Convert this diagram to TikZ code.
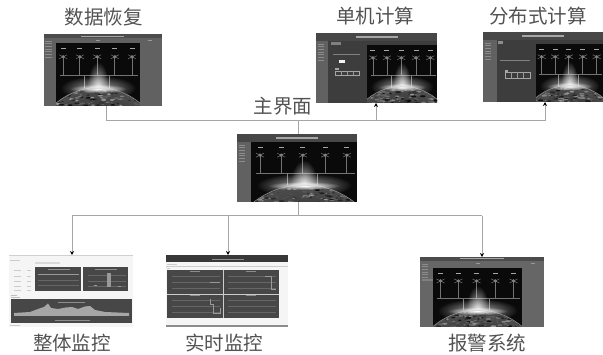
\documentclass[tikz,border=0pt]{standalone}
\usepackage{fontspec}
\newfontfamily\cjk{Noto Sans CJK SC}
\usetikzlibrary{arrows.meta}
\tikzset{
  shot/.style={inner sep=0pt,outer sep=0pt,draw=none},
  conn/.style={draw=black!35,line width=1pt},
  arrowconn/.style={conn,-{Stealth[length=4pt,width=4pt,color=black]}},
  caption/.style={inner sep=0pt,text=black!68,font=\cjk\fontsize{19.5}{22}\selectfont},
  panel/.style={fill=black!72},
  grid/.style={draw=black!60,line width=0.25pt},
  trace/.style={draw=black!40,line width=0.5pt}
}
% base of a dark screenshot: x0 y0 x1 y1 sidebar-right title-bottom body-gray content-gray
\newcommand{\screenbase}[8]{%
  \fill[black!#7] (#1,#2) rectangle (#3,#4);
  \fill[black!#8] (#5,#6) rectangle (#3,#4);
  \fill[black!72] (#1,#2) rectangle (#3,#6);
  \pgfmathsetmacro{\tcx}{(#1+#3)/2}
  \pgfmathsetmacro{\tcy}{(#2+#6)/2}
  \fill[black!35] (\tcx-21,\tcy-0.7) rectangle (\tcx+21,\tcy+0.7);
  \foreach \k in {0,...,6}{
    \pgfmathsetmacro{\my}{#6+3+\k*2.7}
    \fill[black!45] (#1+1.5,\my-0.35) rectangle (#1+8,\my+0.35);
  }
}
% starry scene with satellites and planet: x0 y0 x1 y1
\newcommand{\earthscene}[4]{%
  \begin{scope}
    \clip (#1,#2) rectangle (#3,#4);
    \fill[black!96] (#1,#2) rectangle (#3,#4);
    \pgfmathsetmacro{\w}{#3-#1}
    \pgfmathsetmacro{\h}{#4-#2}
    \pgfmathsetmacro{\R}{0.77*\w}
    \pgfmathsetmacro{\etop}{#2+0.72*\h}
    \pgfmathsetmacro{\ecx}{#1+0.5*\w}
    \pgfmathsetmacro{\ecy}{\etop+\R}
    \pgfmathsetmacro{\bary}{#2+0.52*\h}
    % horizontal bar and rays
    \fill[black!55] (#1+0.05*\w,\bary-0.5) rectangle (#1+0.98*\w,\bary+0.6);
    \fill[black!50] (#1+0.34*\w-0.3,\bary) rectangle (#1+0.34*\w+0.3,\etop);
    \fill[black!50] (#1+0.63*\w-0.3,\bary) rectangle (#1+0.63*\w+0.3,\etop);
    % satellites
    \foreach \fx in {0.085,0.285,0.49,0.70,0.905}{
      \pgfmathsetmacro{\sx}{#1+\fx*\w}
      \pgfmathsetmacro{\sy}{#2+0.22*\h}
      \fill[black!55] (\sx-0.45,\sy) rectangle (\sx+0.45,\bary);
      \fill[black!35] (\sx-2.5,#2+0.08*\h) rectangle (\sx+2.5,#2+0.08*\h+0.9);
      \draw[black!60,line width=0.6pt] (\sx-4,\sy-2) -- (\sx+4,\sy+2) (\sx+4,\sy-2) -- (\sx-4,\sy+2);
      \fill[black!50] (\sx,\sy) circle [radius=1.8];
    }
    % glow: a low wide halo and a tall narrow column
    \begin{scope}[blend mode=screen]
      \shade[inner color=black!35,outer color=black] (\ecx,\etop) ellipse [x radius=0.45*\w,y radius=0.2*\h];
      \shade[inner color=black!20,outer color=black] (\ecx,\etop) ellipse [x radius=0.13*\w,y radius=0.42*\h];
    \end{scope}
    % planet
    \fill[black!40] (\ecx,\ecy) circle [radius=\R+0.6];
    \shade[inner color=black!92,outer color=black!70] (\ecx,\ecy) circle [radius=\R];
    \begin{scope}
      \clip (\ecx,\ecy) circle [radius=\R-0.3];
      \pgfmathsetseed{#1}
      \foreach \n in {1,...,170}{
        \pgfmathsetmacro{\bx}{#1+rnd*\w}
        \pgfmathsetmacro{\by}{\etop+rnd*(#4-\etop)}
        \pgfmathsetmacro{\br}{0.4+rnd*1.3}
        \pgfmathsetmacro{\bg}{int(40+rnd*58)}
        \fill[black!\bg] (\bx,\by) ellipse [x radius=\br*1.7,y radius=\br*0.6];
      }
    \end{scope}
    % bright limb at the centre of the arc
    \begin{scope}[blend mode=screen]
      \shade[inner color=white,outer color=black] (\ecx,\etop+0.6) ellipse [x radius=0.34*\w,y radius=0.07*\h];
    \end{scope}
  \end{scope}
}
\begin{document}
\begin{tikzpicture}[x=1pt,y=-1pt]
\useasboundingbox (0,0) rectangle (603,355);

% --- screenshots ---
% data recovery
\screenbase{43.5}{34}{161.5}{105.7}{56}{38}{62}{62}
\earthscene{56}{43}{140}{105.7}
\fill[black!40] (96,40) rectangle (100,41);
\fill[black!40] (148,40) rectangle (152,41);
\fill[black!70] (43.5,34) rectangle (161.5,38);
\fill[black!35] (81,35.6) rectangle (124,36.6);
% standalone computing
\screenbase{316}{33}{437}{103}{328}{41}{62}{76}
\earthscene{367}{45}{437}{103}
\fill[black!5] (339,60) rectangle (345,63);
\fill[black!50] (333,54) rectangle (360,54.7);
\draw[black!35,line width=0.5pt] (335,71) rectangle (359,75.5);
\draw[black!40,line width=0.3pt] (341,71) -- (341,75.5) (347,71) -- (347,75.5) (353,71) -- (353,75.5);
\fill[black!35] (335,68.5) rectangle (339,70);
\fill[black!50] (331,42.5) rectangle (341,45);
% distributed computing
\screenbase{483}{32}{603}{102}{497}{40}{62}{76}
\earthscene{536}{44}{603}{102}
\fill[black!50] (500,60.5) rectangle (530,61.2);
\draw[black!35,line width=0.5pt] (505,72.5) rectangle (530,78);
\draw[black!40,line width=0.3pt] (511,72.5) -- (511,78) (517,72.5) -- (517,78) (523,72.5) -- (523,78);
\fill[black!35] (505,70) rectangle (508,72);
\fill[black!45] (498,41.5) rectangle (503,44);
% main
\screenbase{237}{134}{357}{202}{251}{142}{62}{96}
\earthscene{251}{142}{357}{202}
% alarm
\screenbase{420}{257}{544}{327}{433}{261}{60}{60}
\earthscene{433}{268}{522}{327}
\fill[black!40] (476,263.5) rectangle (480,264.5);
\fill[black!40] (531,263.5) rectangle (535,264.5);
\fill[black!50] (422,279) rectangle (433,281);
\fill[black!70] (420,257) rectangle (544,261);
\fill[black!35] (460,258.5) rectangle (504,259.5);

% overall monitoring
\fill[black!4] (9,255) rectangle (133,327);
\fill[black!18] (9,255) rectangle (133,256);
\fill[black!15] (35,262) rectangle (60,264);
\fill[black!20] (10,260) rectangle (20,261);
\foreach \yy in {270,276,281,286,290}{\fill[black!20] (14,\yy) rectangle (21,\yy+0.8);\fill[black!20] (27,\yy) rectangle (31,\yy+0.8);}
\fill[black!25] (11,295) rectangle (17,296);
\fill[panel] (35,267) rectangle (81,291);
\fill[panel] (83,267) rectangle (128,291);
\fill[black!25] (11,297) rectangle (20,298);
\fill[panel] (11,299) rectangle (132,323);
\fill[black!20] (10,325) rectangle (20,326);
\draw[grid] (38,274) -- (79,274) (38,280) -- (79,280) (38,285) -- (79,285);
\draw[trace] (38,274.5) -- (79,274.5);
\fill[black!45] (48,269) rectangle (70,269.8);
\fill[black!45] (95,269) rectangle (117,269.8);
\fill[black!45] (58,302) rectangle (85,302.8);
\draw[grid] (88,275) -- (126,275) (88,281) -- (126,281) (88,286) -- (126,286);
\fill[black!40] (107,273) rectangle (111,287);
\fill[black!40] (94,285) rectangle (97,286.5);
\fill[black!40] (118,286) rectangle (121,287);
\fill[black!35] (14,316) -- (14,313) -- (30,312) -- (38,309) -- (44,307) -- (48,303.5) -- (51,308) -- (58,309) -- (66,307.5) -- (72,307) -- (78,309) -- (85,306.5) -- (90,306) -- (95,310) -- (105,312) -- (129,313) -- (129,316) -- cycle;
\fill[black!45] (55,320) rectangle (90,320.8);
% real-time monitoring
\fill[black!4] (166,255) rectangle (288,327);
\fill[black!78] (166,255) rectangle (288,262);
\fill[black!45] (212,259) rectangle (244,260);
\fill[black!20] (167,264) rectangle (177,265);
\draw[black!20,line width=0.4pt] (166,266.5) -- (288,266.5);
\fill[black!20] (167,268) rectangle (170,269);
\fill[panel] (167,270) rectangle (279,318);
\draw[black!20,line width=0.6pt] (223,270) -- (223,318) (167,294) -- (279,294);
\fill[black!45] (190,271.5) rectangle (200,272.3);
\fill[black!45] (246,271.5) rectangle (256,272.3);
\fill[black!45] (190,295.5) rectangle (200,296.3);
\fill[black!45] (246,295.5) rectangle (256,296.3);
\draw[grid] (172,276) -- (220,276) (172,282) -- (220,282) (172,288) -- (220,288) (228,276) -- (276,276) (228,282) -- (276,282) (228,288) -- (276,288) (172,300) -- (220,300) (172,306) -- (220,306) (172,312) -- (220,312) (228,300) -- (276,300) (228,306) -- (276,306) (228,312) -- (276,312);
\draw[trace] (265,276) -- (271,276) -- (271,289) -- (276,289);
\draw[trace] (210,299) -- (210,304) -- (213,304) -- (213,313) -- (220,313) -- (220,308);
\draw[trace] (210,282.5) -- (220,282.5);
\fill[black!45] (166,325.5) rectangle (288,327);

% --- invisible frames naming the screenshots ---
\node[shot,minimum width=118pt,minimum height=71.7pt] (recovery) at (102.5,69.85) {};
\node[shot,minimum width=121pt,minimum height=70pt] (single) at (376.5,68) {};
\node[shot,minimum width=120pt,minimum height=70pt] (distributed) at (543,67) {};
\node[shot,minimum width=120pt,minimum height=68pt] (main) at (297,168) {};
\node[shot,minimum width=124pt,minimum height=72pt] (overall) at (71,291) {};
\node[shot,minimum width=122pt,minimum height=72pt] (realtime) at (227,291) {};
\node[shot,minimum width=124pt,minimum height=70pt] (alarm) at (482,292) {};

% --- captions ---
\node[caption] (capR) at (103.5,17) {数据恢复};
\node[caption] (capS) at (375,16) {单机计算};
\node[caption] (capD) at (538,16) {分布式计算};
\node[caption] (capM) at (283,106) {主界面};
\node[caption] (capO) at (72,343) {整体监控};
\node[caption] (capT) at (224,343) {实时监控};
\node[caption] (capA) at (487,343) {报警系统};

% --- connectors ---
\coordinate (busTop) at (298,120.7);
\coordinate (busBot) at (298,216);
\coordinate (busTL) at (106,120.7);
\coordinate (busTS) at (376,120.7);
\coordinate (busTD) at (545,120.7);
\coordinate (busBO) at (72,216);
\coordinate (busBR) at (228,216);
\coordinate (busBA) at (482,216);
\draw[conn] (busTL |- recovery.south) -- (busTL) -- (busTD);
\draw[conn] (main.north -| busTop) -- (busTop);
\draw[arrowconn] (busTS) -- (busTS |- single.south);
\draw[arrowconn] (busTD) -- (busTD |- distributed.south);
\draw[conn] (main.south -| busBot) -- (busBot);
\draw[conn] (busBO) -- (busBA);
\draw[arrowconn] (busBO) -- (busBO |- overall.north);
\draw[arrowconn] (busBR) -- (busBR |- realtime.north);
\draw[arrowconn] (busBA) -- (busBA |- alarm.north);
\end{tikzpicture}
\end{document}
